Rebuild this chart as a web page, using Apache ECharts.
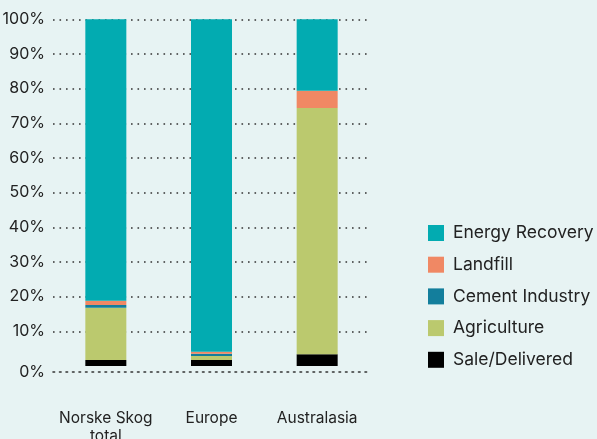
<!DOCTYPE html>
<html><head><meta charset="utf-8">
<script src="https://cdn.jsdelivr.net/npm/echarts@6/dist/echarts.min.js"></script>
<style>html,body{margin:0;padding:0;background:#e7f3f3;}#c{width:597px;height:439px;}</style>
</head><body><div id="c"></div>
<script>
const categories = ['Norske Skog\ntotal', 'Europe', 'Australasia'];
const saleDelivered = [1.7, 1.7, 3.4];
const agriculture = [15.1, 1.2, 71.0];
const cementIndustry = [0.8, 0.6, 0];
const landfill = [1.2, 0.6, 5.0];
const energyRecovery = [81.2, 95.9, 20.6];
const yTicks = [0, 10, 20, 30, 40, 50, 60, 70, 80, 90, 100];

const colors = {
  'Energy Recovery': '#02abb1',
  'Landfill': '#f08864',
  'Cement Industry': '#137e9c',
  'Agriculture': '#bbc96e',
  'Sale/Delivered': '#000000'
};
const font = 'Inter, Roboto, sans-serif';
const mk = (name, data) => ({
  name, type: 'bar', stack: 'a', data, barWidth: 41,
  itemStyle: { color: colors[name] }
});
const chart = echarts.init(document.getElementById('c'), null, {renderer: 'canvas'});
chart.setOption({
  backgroundColor: '#e7f3f3',
  animation: false,
  grid: { left: 53, right: 227, top: 19.3, bottom: 73, containLabel: false, outerBoundsMode: 'none' },
  xAxis: {
    type: 'category', data: categories,
    offset: 6,
    axisLine: { show: true, onZero: false, lineStyle: { color: '#333', width: 1.6, type: [1.6, 4.9] } },
    axisTick: { show: false },
    axisLabel: { interval: 0, margin: 37, fontSize: 15.5, color: '#222', fontFamily: font, lineHeight: 18 }
  },
  yAxis: {
    type: 'value', min: yTicks[0], max: yTicks[yTicks.length - 1], interval: 10,
    axisLine: { show: false }, axisTick: { show: false },
    splitLine: { show: true, showMinLine: false, lineStyle: { color: '#333', width: 1.6, type: [1.6, 4.9] } },
    axisLabel: {
      margin: 8, fontSize: 16, color: '#222', fontFamily: font,
      formatter: v => v === 0 ? '{z|0%}' : v + '%',
      rich: { z: { fontSize: 16, color: '#222', fontFamily: font, padding: [12, 0, 0, 0] } }
    }
  },
  legend: {
    orient: 'vertical', left: 428, top: 224, padding: 0,
    itemWidth: 16, itemHeight: 16, itemGap: 13.7,
    icon: 'rect',
    data: ['Energy Recovery', 'Landfill', 'Cement Industry', 'Agriculture', 'Sale/Delivered'],
    textStyle: { fontSize: 17.5, lineHeight: 16, color: '#222', fontFamily: font, padding: [0, 0, 0, 4] }
  },
  series: [
    mk('Sale/Delivered', saleDelivered),
    mk('Agriculture', agriculture),
    mk('Cement Industry', cementIndustry),
    mk('Landfill', landfill),
    mk('Energy Recovery', energyRecovery)
  ]
});
</script></body></html>
